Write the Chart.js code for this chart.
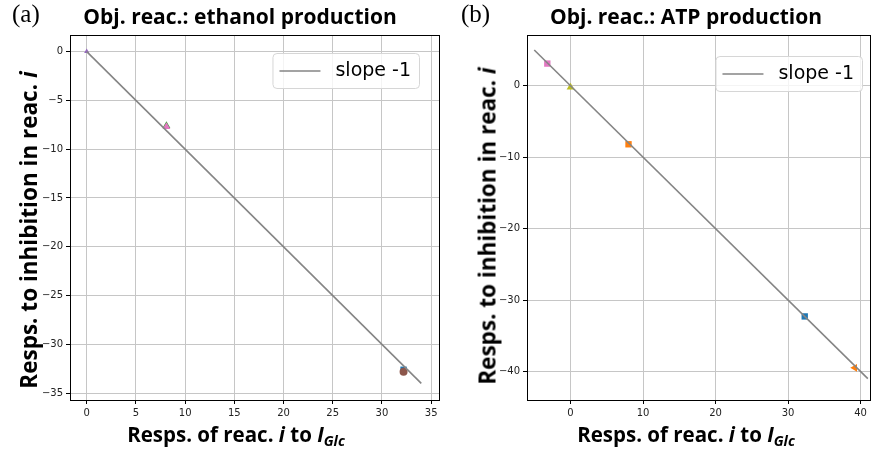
<!DOCTYPE html>
<html>
<head>
<meta charset="utf-8">
<script src="https://cdn.jsdelivr.net/npm/chart.js@4.4.1/dist/chart.umd.min.js"></script>
<style>
  body { margin: 0; background: #fff; }
  #wrap { position: relative; width: 875px; height: 451px; overflow: hidden; }
  canvas { position: absolute; top: 0; }
  .lbl { position: absolute; font-family: "Liberation Serif", serif; font-size: 25px; color: #000; }
  .ttl, .xt, .yt { position: absolute; font-family: "Open Sans", sans-serif; font-weight: 700; color: #000; white-space: nowrap; transform: translate(-50%, -50%); }
  .ttl { font-size: 21px; }
  .xt { font-size: 20.5px; }
  .yt { font-size: 22.5px; transform: translate(-50%, -50%) rotate(-90deg); }
  sub { font-size: 0.7em; vertical-align: -0.25em; }
</style>
</head>
<body>
<div id="wrap">
  <canvas id="chartA" width="445" height="451" style="left:0"></canvas>
  <canvas id="chartB" width="430" height="451" style="left:445px"></canvas>

  <div class="lbl" style="left:12px;top:0px">(a)</div>
  <div class="lbl" style="left:461px;top:0px">(b)</div>
  <div class="ttl" style="left:240px;top:16px">Obj. reac.: ethanol production</div>
  <div class="ttl" style="left:686px;top:16px">Obj. reac.: ATP production</div>
  <div class="xt" style="left:236px;top:435px">Resps. of reac. <i>i</i> to <i>I<sub>Glc</sub></i></div>
  <div class="xt" style="left:686px;top:435px">Resps. of reac. <i>i</i> to <i>I<sub>Glc</sub></i></div>
  <div class="yt" style="left:28px;top:230px">Resps. to inhibition in reac. <i>i</i></div>
  <div class="yt" style="left:487px;top:226px">Resps. to inhibition in reac. <i>i</i></div>
</div>

<script>
// panel (a): ethanol production
const lineAX = [0, 34];
const lineAY = [0, -34];
const ptsAX = [8.1, 32.2, 0, 8.1, 32.2];
const ptsAY = [-7.6, -32.6, 0, -7.7, -32.8];
const ticksAX = [0, 5, 10, 15, 20, 25, 30, 35];
const ticksAY = [0, -5, -10, -15, -20, -25, -30, -35];

// panel (b): ATP production
const lineBX = [-5, 41];
const lineBY = [5, -41];
const ptsBX = [-3.2, 0, 8.0, 32.3, 39.2];
const ptsBY = [3.1, -0.2, -8.2, -32.3, -39.5];
const ticksBX = [0, 10, 20, 30, 40];
const ticksBY = [0, -10, -20, -30, -40];

const lineLabel = 'slope -1';

// marker styles (tab10 colours)
const colorsA = ['#2ca02c', '#1f77b4', '#9467bd', '#e377c2', '#8c564b'];
const shapesA = ['triangle', 'rect', 'triangle', 'triangle', 'circle'];
const rotA = [0, 0, 0, 0, 0];
const sizesA = [4.5, 4.5, 3, 4.5, 4];
const colorsB = ['#e377c2', '#bcbd22', '#ff7f0e', '#1f77b4', '#ff7f0e'];
const shapesB = ['rect', 'triangle', 'rect', 'rect', 'triangle'];
const rotB = [0, 0, 0, 0, -90];
const sizesB = [4.5, 4.5, 4.5, 4.5, 4.5];

const toXY = (xs, ys) => xs.map((x, i) => ({ x: x, y: ys[i] }));
const fmt = v => String(v).replace('-', '\u2212');

// black frame round the plot area
const framePlugin = {
    id: 'frame',
    afterDraw(chart) {
        const a = chart.chartArea, ctx = chart.ctx;
        ctx.save();
        ctx.strokeStyle = '#000';
        ctx.lineWidth = 1;
        ctx.strokeRect(Math.round(a.left) + 0.5, Math.round(a.top) + 0.5,
            Math.round(a.right - a.left), Math.round(a.bottom - a.top));
        ctx.restore();
    }
};

// matplotlib-like legend box in the upper right
const legendPlugin = {
    id: 'mplLegend',
    afterDraw(chart, args, opts) {
        const ds = chart.data.datasets[0];
        const ctx = chart.ctx, a = chart.chartArea;
        ctx.save();
        ctx.font = '19px "DejaVu Sans"';
        const tw = ctx.measureText(ds.label).width;
        const w = 7 + 41 + 15 + tw + 8, h = 35;
        const x = a.right - opts.right - w, y = a.top + opts.top;
        ctx.beginPath();
        ctx.roundRect(x + 0.5, y + 0.5, w, h, 4);
        ctx.fillStyle = 'rgba(255,255,255,0.8)';
        ctx.fill();
        ctx.strokeStyle = '#d6d6d6';
        ctx.lineWidth = 1;
        ctx.stroke();
        ctx.beginPath();
        ctx.moveTo(x + 7, y + h / 2 + 0.5);
        ctx.lineTo(x + 48, y + h / 2 + 0.5);
        ctx.strokeStyle = ds.borderColor;
        ctx.lineWidth = ds.borderWidth;
        ctx.stroke();
        ctx.fillStyle = '#000';
        ctx.textBaseline = 'middle';
        ctx.fillText(ds.label, x + 63, y + h / 2 + 1);
        ctx.restore();
    }
};

function axis(ticks, min, max, fit) {
    return {
        type: 'linear',
        min: min,
        max: max,
        afterBuildTicks: s => { s.ticks = ticks.map(v => ({ value: v })); },
        afterFit: fit,
        grid: { color: '#c6c6c6', lineWidth: 1, tickColor: '#000', tickLength: 4, drawTicks: true },
        border: { display: true, color: '#000' },
        ticks: {
            autoSkip: false,
            maxRotation: 0,
            padding: 3,
            color: '#222',
            font: { family: 'DejaVu Sans', size: 10 },
            callback: fmt
        }
    };
}

function makeChart(id, lineX, lineY, ptsX, ptsY, colors, shapes, rot, sizes, ticksX, ticksY, xr, yr, yW, rightPad, leg) {
    return new Chart(document.getElementById(id), {
        type: 'scatter',
        data: {
            datasets: [
                {
                    label: lineLabel,
                    data: toXY(lineX, lineY),
                    showLine: true,
                    borderColor: '#858585',
                    borderWidth: 1.6,
                    pointRadius: 0
                },
                {
                    label: 'points',
                    data: toXY(ptsX, ptsY),
                    pointStyle: shapes,
                    pointRotation: rot,
                    pointRadius: sizes,
                    pointBackgroundColor: colors,
                    pointBorderColor: colors,
                    pointBorderWidth: 0
                }
            ]
        },
        options: {
            responsive: false,
            animation: false,
            layout: { padding: { top: 35, right: rightPad, left: 0, bottom: 0 } },
            plugins: {
                legend: { display: false },
                tooltip: { enabled: false },
                mplLegend: leg
            },
            scales: {
                x: axis(ticksX, xr[0], xr[1], s => { s.height = 51; }),
                y: axis(ticksY, yr[0], yr[1], s => { s.width = yW; })
            }
        },
        plugins: [framePlugin, legendPlugin]
    });
}

makeChart('chartA', lineAX, lineAY, ptsAX, ptsAY, colorsA, shapesA, rotA, sizesA,
    ticksAX, ticksAY, [-1.7, 35.8], [-35.7, 1.7], 70, 6, { right: 20, top: 18 });
makeChart('chartB', lineBX, lineBY, ptsBX, ptsBY, colorsB, shapesB, rotB, sizesB,
    ticksBX, ticksBY, [-6, 41.3], [-44, 7.1], 82, 5, { right: 8, top: 21 });
</script>
</body>
</html>
